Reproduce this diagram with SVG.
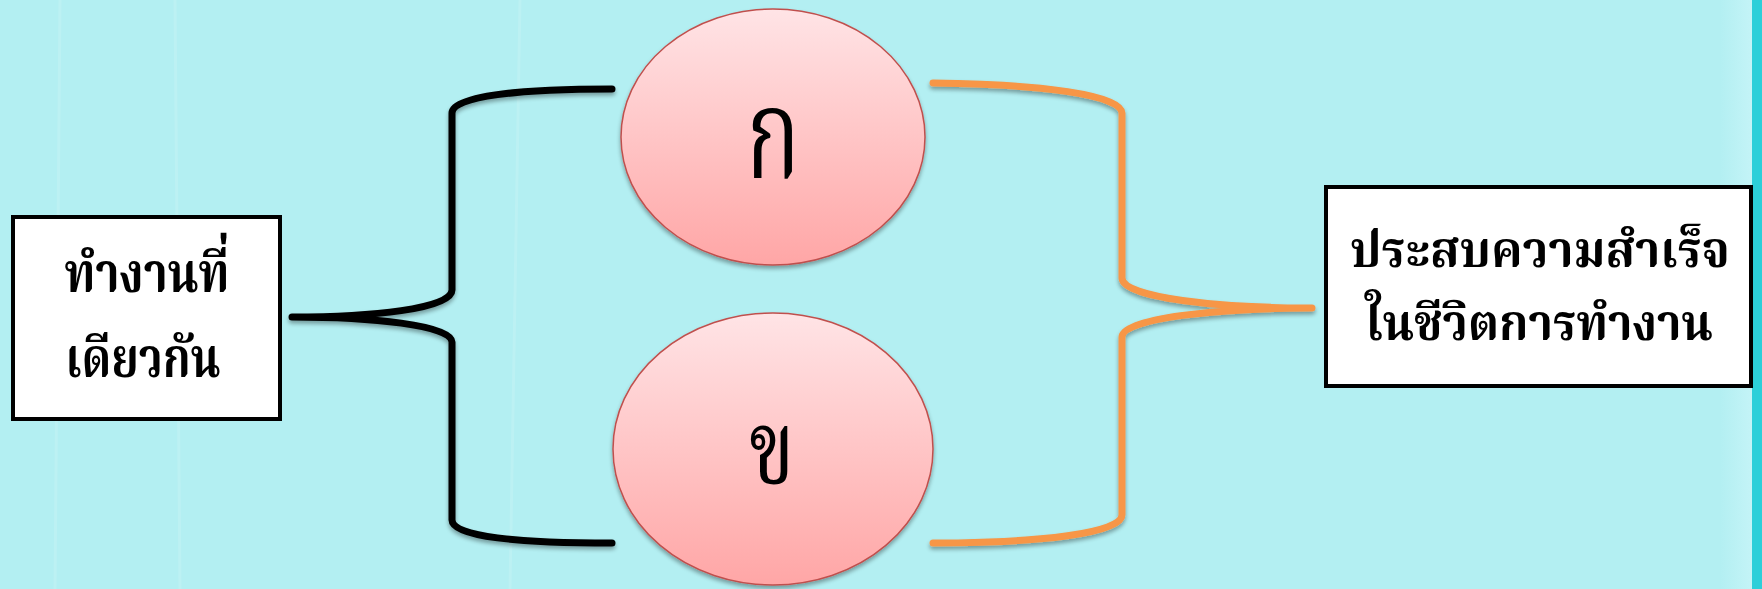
<svg xmlns="http://www.w3.org/2000/svg" width="1762" height="589" viewBox="0 0 1762 589">
<defs>
<linearGradient id="pink" x1="0" y1="0" x2="0" y2="1">
<stop offset="0" stop-color="#ffe4e6"/>
<stop offset="1" stop-color="#ffa6a6"/>
</linearGradient>
<linearGradient id="edge" x1="0" y1="0" x2="1" y2="0">
<stop offset="0" stop-color="#b3eff2"/>
<stop offset="1" stop-color="#c4f4f7"/>
</linearGradient>
<filter id="sh" x="-10%" y="-10%" width="120%" height="125%">
<feGaussianBlur in="SourceAlpha" stdDeviation="2"/>
<feOffset dx="0" dy="3" result="b"/>
<feComponentTransfer><feFuncA type="linear" slope="0.35"/></feComponentTransfer>
<feMerge><feMergeNode/><feMergeNode in="SourceGraphic"/></feMerge>
</filter>
</defs>
<style>
.box{fill:#ffffff;stroke:#000000;stroke-width:4}
.ell{fill:url(#pink);stroke:#c0504d;stroke-width:1.5}
.t{font-family:"Noto Serif Thai","Noto Sans Thai Looped","Noto Sans Thai","Noto Sans",sans-serif;font-weight:bold;fill:#000000;text-anchor:middle}
.big{font-weight:normal}
.brace{fill:none;stroke-width:7;stroke-linecap:round;stroke-linejoin:round}
</style>
<rect x="0" y="0" width="1762" height="589" fill="#b3eff2"/>
<g opacity="0.12" fill="none" stroke="#ffffff" stroke-width="3">
<line x1="60" y1="0" x2="55" y2="589"/>
<line x1="175" y1="0" x2="180" y2="589"/>
<line x1="520" y1="0" x2="510" y2="589"/>
</g>
<rect x="1720" y="0" width="32" height="589" fill="url(#edge)"/>
<rect x="1752" y="0" width="10" height="589" fill="#2ccfd9"/>
<g id="connectors" filter="url(#sh)">
<path class="brace" stroke="#000000" d="M612,89 C520,89 452,96 452,113 L452,290 C452,309 370,317 292,317 C370,317 452,325 452,342 L452,520 C452,537 520,543 612,543"/>
<path class="brace" stroke="#f79646" d="M933,83 C1040,84 1122,95 1122,113 L1122,278 C1122,298 1220,308 1312,308 C1220,308 1122,318 1122,337 L1122,515 C1122,533 1040,543 933,543"/>
</g>
<g id="node-left">
<rect class="box" x="13" y="217" width="267" height="202"/>
<text class="t" x="147" y="292" font-size="56" textLength="165" lengthAdjust="spacingAndGlyphs">ทำงานที่</text>
<text class="t" x="143" y="377" font-size="56" textLength="155" lengthAdjust="spacingAndGlyphs">เดียวกัน</text>
</g>
<g id="node-ko" filter="url(#sh)">
<ellipse class="ell" cx="773" cy="137" rx="152" ry="128"/>
<text class="t big" x="773" y="178" font-size="125" textLength="55" lengthAdjust="spacingAndGlyphs">ก</text>
</g>
<g id="node-kho" filter="url(#sh)">
<ellipse class="ell" cx="773" cy="449" rx="160" ry="136"/>
<text class="t big" x="772" y="483" font-size="104" textLength="46" lengthAdjust="spacingAndGlyphs">ข</text>
</g>
<g id="node-right">
<rect class="box" x="1326" y="187" width="425" height="199"/>
<text class="t" x="1540" y="267" font-size="50" textLength="380" lengthAdjust="spacingAndGlyphs">ประสบความสำเร็จ</text>
<text class="t" x="1539" y="340" font-size="50" textLength="348" lengthAdjust="spacingAndGlyphs">ในชีวิตการทำงาน</text>
</g>
</svg>
